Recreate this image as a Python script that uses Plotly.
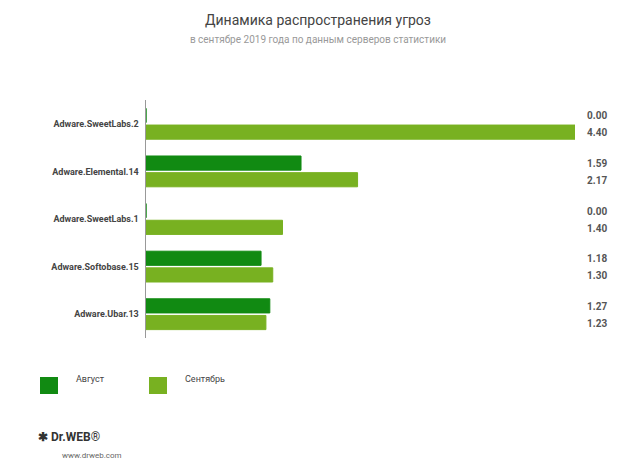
import plotly.graph_objects as go

categories = ["Adware.SweetLabs.2", "Adware.Elemental.14", "Adware.SweetLabs.1",
              "Adware.Softobase.15", "Adware.Ubar.13"]
august = [0.00, 1.59, 0.00, 1.18, 1.27]
september = [4.40, 2.17, 1.40, 1.30, 1.23]
series_names = ["Август", "Сентябрь"]
colors = ["#118a12", "#78b121"]

fig = go.Figure()
for name, vals, col in zip(series_names, [august, september], colors):
    fig.add_bar(y=categories, x=vals, orientation="h", name=name,
                marker=dict(color=col, line=dict(color=col, width=1)))

for cat, a, s in zip(categories, august, september):
    for v, shift in ((a, 8), (s, -9)):
        fig.add_annotation(x=1.0, xref="paper", xanchor="left", xshift=10,
                           y=cat, yref="y", yshift=shift, text=f"<b>{v:.2f}</b>",
                           showarrow=False,
                           font=dict(size=10, color="#555", family="Roboto"))

# legend drawn manually (pixel positions converted to paper coords)
def px_x(x):
    return (x - 138) / 429

def px_y(y):
    return (330 - y) / 238

for i, (name, col) in enumerate(zip(series_names, colors)):
    x0 = 32 + i * 109
    fig.add_shape(type="rect", xref="paper", yref="paper",
                  x0=px_x(x0), x1=px_x(x0 + 18),
                  y0=px_y(386), y1=px_y(369), fillcolor=col, line_width=0)
    fig.add_annotation(x=px_x(x0 + 34), xref="paper", xanchor="left",
                       y=px_y(378), yref="paper", text=name, showarrow=False,
                       font=dict(size=9, color="#444", family="Roboto"))

fig.update_layout(
    width=620, height=473, barmode="group", bargap=0.3, bargroupgap=0.15,
    plot_bgcolor="white", paper_bgcolor="white", showlegend=False,
    margin=dict(l=138, r=53, t=92, b=143),
    font=dict(family="Roboto", color="#444"),
    title=dict(text="Динамика распространения угроз<br><span style='font-size:10px;color:#999'>"
                    "в сентябре 2019 года по данным серверов статистики</span>",
               x=0.5, xref="container", y=0.965, yanchor="top",
               font=dict(size=14, color="#444", family="Roboto")),
    xaxis=dict(range=[0, 4.4], visible=False),
    yaxis=dict(autorange="reversed", showline=True, linecolor="#999", ticks="",
               automargin=False, tickprefix="<b>", ticksuffix="</b>  ",
               tickfont=dict(size=9, color="#444", family="Roboto")),
)
fig.add_annotation(x=px_x(28), xref="paper", xanchor="left", y=px_y(438), yref="paper",
                   text="<b>✱ Dr.WEB</b>®", showarrow=False,
                   font=dict(size=12, color="#333", family="Roboto"))
fig.add_annotation(x=px_x(52), xref="paper", xanchor="left", y=px_y(454), yref="paper",
                   text="www.drweb.com", showarrow=False,
                   font=dict(size=8, color="#666", family="Roboto"))
fig.write_html("out.html")
